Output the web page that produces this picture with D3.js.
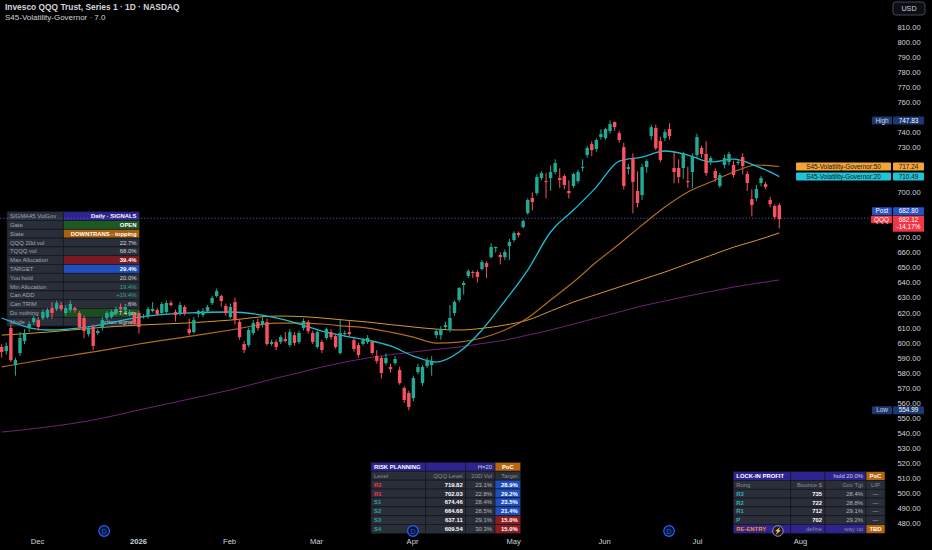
<!DOCTYPE html>
<html><head><meta charset="utf-8">
<script src="https://cdn.jsdelivr.net/npm/d3@7"></script>
<style>
html,body{margin:0;padding:0;background:#000;}
svg{display:block;font-family:"Liberation Sans",Arial,sans-serif;}
</style></head><body>
<svg id="c" width="932" height="550"></svg>
<script>
// ---------------- DATA ----------------
const opens=[597.1,594.4,609.7,585.1,593.1,601.1,609.7,613.7,615.0,616.4,
617.0,623.0,622.4,625.0,619.7,621.7,623.0,619.7,616.4,605.7,
610.4,606.4,609.7,616.4,617.0,619.7,623.7,621.7,619.0,618.4,
619.7,617.0,617.7,621.0,621.7,619.7,620.4,626.4,620.4,619.7,
623.7,609.0,607.0,619.0,618.4,621.0,626.4,631.0,631.0,624.4,
617.0,627.0,613.7,599.1,598.4,606.4,613.7,611.7,613.7,599.1,
600.4,600.4,602.4,598.4,605.0,600.4,609.7,613.7,606.4,597.1,
600.4,603.1,607.0,604.4,593.1,605.7,607.0,601.7,598.4,599.1,
600.4,600.4,591.1,589.8,586.4,583.8,586.4,581.8,569.8,566.5,
563.1,580.4,573.1,584.4,585.1,605.0,605.0,610.4,608.4,619.7,
628.4,638.3,644.3,647.0,647.0,649.0,652.9,656.9,662.9,658.3,
656.9,664.3,668.3,672.9,676.9,686.2,696.2,699.5,709.5,707.5,
709.5,713.5,709.5,710.8,700.9,704.2,707.5,716.2,724.8,732.1,
728.8,736.8,736.1,740.8,746.8,739.4,730.1,715.5,722.8,700.9,
698.2,716.8,737.4,742.8,734.1,736.1,742.1,716.2,716.2,716.2,
707.5,713.5,724.8,729.5,725.5,720.2,714.2,704.2,718.2,720.2,
718.2,719.5,723.5,712.2,695.5,696.2,706.2,705.5,694.9,690.9,
691.5];
const closes=[593.8,597.8,588.4,588.4,603.1,606.4,612.4,616.4,610.4,620.4,
621.7,619.7,626.4,622.4,623.0,625.7,621.7,610.4,607.7,609.7,
597.8,607.7,615.0,619.7,620.4,622.4,622.4,623.7,620.4,613.0,
610.4,617.7,622.4,622.4,619.0,625.7,626.4,625.0,618.4,625.0,
619.7,606.4,615.0,621.0,621.0,623.7,629.7,634.3,627.7,619.7,
623.7,615.0,603.7,595.1,608.4,613.0,609.7,614.4,599.1,600.4,
597.1,603.7,601.1,607.0,599.8,606.4,614.4,607.7,600.4,607.0,
595.1,609.0,603.7,597.1,606.4,606.4,605.7,595.8,591.8,601.7,
603.1,593.1,587.8,579.8,589.8,582.4,589.1,573.1,561.8,557.2,
576.4,583.8,583.8,587.8,587.8,607.7,609.0,611.7,616.4,627.0,
636.3,639.7,647.6,646.3,643.7,653.6,650.3,663.6,663.6,656.9,
660.3,666.9,672.9,671.6,680.9,694.9,693.5,710.2,712.8,706.9,
713.5,719.5,708.2,704.9,699.5,712.2,713.5,716.8,729.5,728.1,
734.8,738.8,742.1,745.4,743.4,734.8,704.2,716.8,706.9,692.9,
716.8,720.8,743.4,729.4,721.5,740.1,737.4,713.5,710.2,726.1,
706.9,724.2,736.8,725.5,712.8,722.8,709.5,711.5,722.8,725.5,
711.5,720.2,717.5,706.2,691.5,702.2,709.5,703.5,692.2,683.6,
682.12];
const highs=[599,600,612,590,607,609,614,618,617,622,
623,627,628,627,625,628,624,621,618,611,
612,609,617,621,622,624,626,625,622,620,
621,619,624,627,623,627,628,628,622,627,
625,616,617,622,623,625,631,636,632,626,
626,630,615,601,610,615,616,617,616,602,
602,605,607,609,607,608,616,615,608,608,
602,610,609,606,615,608,615,603,600,603,
605,601,595,591,593,586,591,584,571,568,
578,586,585,590,591,609,611,614,625,628,
637,641,649,648,648,655,654,666,664,660,
662,669,674,674,682,696,700,712,714,713,
718,722,716,712,708,713,715,722,731,734,
736,742,743,747.83,747,741,733,719,726,714,
719,722,745,745,737,742,746,727,722,727,
717,726,739,731,734,724,716,713,725,727,
721,722,726,714,702,705,711,707,697,692,
693];
const lows=[590,592,587,578,591,599,607,612,608,615,
616,616,621,621,618,620,620,609,603,604,
595,605,608,615,616,618,621,620,618,612,
606,616,616,620,618,618,619,624,614,618,
618,605,606,617,617,620,625,630,624,618,
616,612,602,593,597,605,608,610,598,598,
595,599,600,597,598,599,608,606,599,596,
593,602,602,596,592,604,604,594,590,598,
599,592,586,576,585,580,585,572,560,554.99,
561,579,571,583,578,603,602,609,607,618,
627,632,643,643,640,648,643,656,660,652,
655,655,667,670,676,685,688,698,708,696,
701,712,703,702,696,703,706,714,723,724,
727,735,735,739,741,733,702,712,686,690,
695,713,735,728,720,734,735,706,706,709,
703,703,723,723,711,718,707,703,716,718,
710,718,712,701,684,694,704,702,690,682,
676];

// moving-average lines read at sample bars
const maBars =[0,10,20,30,40,50,60,65,70,75,80,85,90,95,100,105,110,115,120,125,130,135,140,145,150,155,160,165,170];
const ma20   =[616.4,608.4,611.0,617.0,619.7,620.4,616.4,612.4,607.7,604.4,601.7,597.8,591.1,587.1,593.8,608.4,627.7,648.3,673.6,688.2,703.5,720.8,723.5,727.5,724.8,720.2,722.1,717.5,710.5];
const ma50   =[583.8,589.1,593.8,599.1,603.7,608.4,613.0,613.0,612.4,611.0,609.7,607.0,603.7,599.7,600.4,603.1,608.4,616.4,628.4,640.3,653.6,665.6,678.2,690.2,700.2,706.9,713.5,718.2,717.2];
const ma100  =[605.0,607.0,609.7,611.7,613.0,615.0,617.7,617.4,616.4,615.0,613.7,612.0,610.4,609.0,608.4,609.5,611.7,615.0,621.0,627.0,632.0,637.0,642.0,647.0,652.5,658.0,663.5,668.0,673.0];
const ma200  =[540.5,543.9,548.5,555.2,561.8,568.5,576.4,580.0,583.8,587.0,589.8,592.0,593.8,595.5,597.1,599.4,601.7,605.0,608.4,612.4,616.4,620.4,624.4,627.7,631.0,634.0,637.0,639.4,641.7];

const monthLabels=["Dec","2026","Feb","Mar","Apr","May","Jun","Jul","Aug"];
const monthBars  =[7.7,29.8,49.7,68.7,89.7,111.8,131.7,152.0,174.5];
const dividendBars=[22.4,89.9,145.9];
const splitBars=[169.7];
const priceTicks=[480,490,500,510,520,530,540,550,560,570,580,590,600,610,620,630,640,650,660,670,680,690,700,710,720,730,740,750,760,770,780,790,800,810];

const lastPrice=682.12, postPrice=682.80, highPrice=747.83, lowPrice=554.99;
const gov50=717.24, gov20=710.49, changePct="-14.17%";

const leftLabels=["SIGMA45 VolGov","Gate","State","QQQ 20d vol","TQQQ vol","Max Allocation","TARGET","You hold","Min Allocation","Can ADD","Can TRIM","Do nothing","Mode"];
const leftValues=["Daily · SIGNALS","OPEN","DOWNTRANS · topping","22.7%","68.0%","39.4%","29.4%","20.0%","19.4%","+19.4%","-.6%","±/- 7.4 pts","action signals"];

const riskHeader=["RISK PLANNING","","H=20","PoC"];
const riskCols=["Level","QQQ Level","20D Vol","Target"];
const riskLevels=["R2","R1","S1","S2","S3","S4"];
const riskPrices=[719.82,702.03,674.46,664.68,637.11,609.54];
const riskVol=[23.1,22.8,28.4,28.5,29.1,30.3];
const riskTarget=[28.9,29.2,23.5,21.4,15.0,15.0];

const lipHeader=["LOCK-IN PROFIT","","hold 20.0%","PoC"];
const lipCols=["Rung","Bounce $","Gov Tgt","LIP"];
const lipRungs=["R3","R2","R1","P"];
const lipBounce=[735,722,712,702];
const lipTgt=[28.4,28.8,29.1,29.2];
const lipFlag=["—","—","—","—"];
const lipLast=["RE-ENTRY","define","way up","TBD"];

// ---------------- DRAW ----------------
const svg=d3.select("#c");
svg.append("rect").attr("width",932).attr("height",550).attr("fill","#000");

const x=d3.scaleLinear().domain([0,170]).range([1.7,779.3]);
const y=d3.scaleLinear().domain([480,810]).range([523,27]);

const UP="#22ab94", DN="#f7525f";
const GRAY="#2a2e39", INDIGO="#2e2390", ORANGE="#b8670f", BLUEC="#1f4fbf", REDC="#8b1d1f";

// tables
function drawTable(edges, top, rh, cells){
  const g=svg.append("g");
  cells.forEach((row,r)=>{
    row.forEach((c,ci)=>{
      const x0=edges[ci], x1=edges[ci+1], y0=top+r*rh;
      g.append("rect").attr("x",x0).attr("y",y0).attr("width",x1-x0).attr("height",rh)
        .attr("fill",c.bg||GRAY).attr("stroke","#141720").attr("stroke-width",0.7);
      if(c.t!==undefined && c.t!==""){
        const al=c.a||"end";
        const tx= al==="start"? x0+3 : al==="middle"? (x0+x1)/2 : x1-3;
        g.append("text").attr("x",tx).attr("y",y0+rh/2+2.1).attr("text-anchor",al)
          .attr("font-size",5.9).attr("font-weight",c.b?"700":"400")
          .attr("fill",c.fg||"#d1d4dc").text(c.t);
      }
    });
  });
}

// left table
const leftBg=[INDIGO,"#1d5a22","#a8620d",GRAY,GRAY,"#7a1c1f",BLUEC,GRAY,GRAY,GRAY,GRAY,"#1c4d20",GRAY];
const leftFg=["#fff","#fff","#fff","#d1d4dc","#d1d4dc","#fff","#fff","#d1d4dc","#22ab94","#22ab94","#d1d4dc","#fff","#d1d4dc"];
const leftBold=[true,true,true,false,false,true,true,false,false,false,false,false,false];
drawTable([7,63.3,139.5],211.7,8.8,leftLabels.map((l,i)=>[
  {t:l,a:"start",fg:"#a3a6af"},
  {t:leftValues[i],bg:leftBg[i],fg:leftFg[i],b:leftBold[i]}
]));

// risk planning table
const fmtP=d3.format(".2f"), fmtPct=v=>d3.format(".1f")(v)+"%";
const riskRows=[
  [{t:riskHeader[0],a:"start",bg:INDIGO,fg:"#fff",b:true},{t:riskHeader[1],bg:INDIGO},{t:riskHeader[2],bg:INDIGO,fg:"#d1d4dc"},{t:riskHeader[3],bg:ORANGE,fg:"#fff",b:true,a:"middle"}],
  riskCols.map((t,i)=>({t:t,a:i===0?"start":"end",fg:"#8a8d96"}))
];
riskLevels.forEach((l,i)=>{
  riskRows.push([
    {t:l,a:"start",fg:l[0]==="R"?"#f23645":"#22ab94",b:true},
    {t:fmtP(riskPrices[i]),fg:"#fff",b:true},
    {t:fmtPct(riskVol[i]),fg:"#b2b5be"},
    {t:fmtPct(riskTarget[i]),bg:riskTarget[i]>20?BLUEC:REDC,fg:"#fff",b:true}
  ]);
});
drawTable([371,425.7,465.7,495,520.7],462.3,8.9,riskRows);

// lock-in profit table
const lipRows=[
  [{t:lipHeader[0],a:"start",bg:INDIGO,fg:"#fff",b:true},{t:lipHeader[1],bg:INDIGO},{t:lipHeader[2],bg:INDIGO,fg:"#d1d4dc"},{t:lipHeader[3],bg:ORANGE,fg:"#fff",b:true,a:"middle"}],
  lipCols.map((t,i)=>({t:t,a:i===0?"start":i===3?"middle":"end",fg:"#8a8d96"}))
];
lipRungs.forEach((r,i)=>{
  lipRows.push([
    {t:r,a:"start",fg:"#2bb3b3",b:true},
    {t:String(lipBounce[i]),fg:"#fff",b:true},
    {t:fmtPct(lipTgt[i]),fg:"#b2b5be"},
    {t:lipFlag[i],a:"middle",fg:"#b2b5be"}
  ]);
});
lipRows.push([
  {t:lipLast[0],a:"start",bg:INDIGO,fg:"#f7931a",b:true},
  {t:lipLast[1],bg:INDIGO,fg:"#8a8d96"},
  {t:lipLast[2],bg:INDIGO,fg:"#8a8d96"},
  {t:lipLast[3],a:"middle",bg:ORANGE,fg:"#fff",b:true}
]);
drawTable([733.3,790.7,825,866,885],471.7,8.8,lipRows);

// post dotted line
svg.append("line").attr("x1",0).attr("x2",870).attr("y1",y(postPrice)).attr("y2",y(postPrice))
  .attr("stroke","#5054c0").attr("stroke-width",1).attr("stroke-dasharray","1.2,2");

// MA lines
const lineGen=vals=>d3.line().x((d,i)=>x(maBars[i])).y(d=>y(d)).curve(d3.curveMonotoneX)(vals);
[[ma200,"#74207a",1],[ma100,"#d69a2e",1],[ma50,"#b06d1a",1.2],[ma20,"#1fbcd2",1.3]].forEach(([v,c,w])=>{
  svg.append("path").attr("d",lineGen(v)).attr("fill","none").attr("stroke",c).attr("stroke-width",w);
});

// candles
const cg=svg.append("g");
opens.forEach((o,i)=>{
  const c=closes[i], col=c>=o?UP:DN, cx=x(i);
  cg.append("line").attr("x1",cx).attr("x2",cx).attr("y1",y(highs[i])).attr("y2",y(lows[i]))
    .attr("stroke",col).attr("stroke-width",1);
  const t=y(Math.max(o,c)), b=y(Math.min(o,c));
  cg.append("rect").attr("x",cx-1.7).attr("y",t).attr("width",3.4).attr("height",Math.max(1,b-t)).attr("fill",col);
});

// badges (positions on the price axis)
const badgeCenters=[y(highPrice),y(gov50),y(gov20),y(postPrice)-7,y(lastPrice)+4,y(lowPrice)];

// right axis (labels hidden where a badge sits on them)
const ax=svg.append("g").attr("transform","translate(909,0)")
  .call(d3.axisRight(y).tickValues(priceTicks).tickFormat(d3.format(".2f")).tickSize(0).tickPadding(0));
ax.select(".domain").remove();
ax.selectAll("text").attr("text-anchor","middle").attr("fill","#d1d4dc").attr("font-size",7.6)
  .attr("font-family","Liberation Sans, Arial, sans-serif");
ax.selectAll(".tick").filter(d=>badgeCenters.some(bc=>Math.abs(y(d)-bc)<7)).remove();

// bottom axis
const bx=svg.append("g").attr("transform","translate(0,539)")
  .call(d3.axisBottom(x).tickValues(monthBars).tickFormat((d,i)=>monthLabels[i]).tickSize(0).tickPadding(0));
bx.select(".domain").remove();
bx.selectAll("text").attr("fill","#d1d4dc").attr("font-size",7.6).attr("font-family","Liberation Sans, Arial, sans-serif")
  .attr("font-weight",(d,i)=>monthLabels[i]==="2026"?"700":"400");

// dividend & split markers
dividendBars.forEach(b=>{
  svg.append("circle").attr("cx",x(b)).attr("cy",531).attr("r",5.3).attr("fill","#08132e").attr("stroke","#2962ff").attr("stroke-width",1.2);
  svg.append("text").attr("x",x(b)).attr("y",533.6).attr("text-anchor","middle").attr("font-size",7).attr("fill","#2962ff").text("D");
});
splitBars.forEach(b=>{
  svg.append("circle").attr("cx",x(b)).attr("cy",531).attr("r",5.3).attr("fill","#15163a").attr("stroke","#9598a1").attr("stroke-width",1);
  svg.append("text").attr("x",x(b)).attr("y",533.4).attr("text-anchor","middle").attr("font-size",6.5).attr("fill","#d1d4dc").text("⚡");
});

function box(x0,y0,w,h,fill,txt,fg,anchor){
  svg.append("rect").attr("x",x0).attr("y",y0).attr("width",w).attr("height",h).attr("fill",fill).attr("rx",1);
  if(txt) svg.append("text").attr("x",anchor==="start"?x0+2:x0+w/2).attr("y",y0+h/2+2.2)
    .attr("text-anchor",anchor||"middle").attr("font-size",6.4).attr("fill",fg).text(txt);
}
// USD
svg.append("rect").attr("x",893).attr("y",2).attr("width",32).attr("height",13).attr("rx",3).attr("fill","#0c0e14").attr("stroke","#434651");
svg.append("text").attr("x",909).attr("y",11.3).attr("text-anchor","middle").attr("font-size",7.2).attr("fill","#d1d4dc").text("USD");

const NAVY="#1c3870";
box(872,y(highPrice)-4,20,8,NAVY,"High","#d1d4dc");
box(893,y(highPrice)-4,31,8,NAVY,fmtP(highPrice),"#fff");
box(796,y(gov50)-4,95,8,"#f2a437","S45-Volatility-Governor:50","#131722");
box(893,y(gov50)-4,31,8,"#f2a437",fmtP(gov50),"#131722");
box(796,y(gov20)-4,95,8,"#22c3d6","S45-Volatility-Governor:20","#131722");
box(893,y(gov20)-4,31,8,"#22c3d6",fmtP(gov20),"#131722");
box(872,y(postPrice)-11,20,8,"#2451c4","Post","#fff");
box(893,y(postPrice)-11,31,8,"#2451c4",fmtP(postPrice),"#fff");
box(871,y(lastPrice)-3.5,21,7.5,"#f23645","QQQ","#fff");
svg.append("rect").attr("x",893).attr("y",y(lastPrice)-3.5).attr("width",31).attr("height",16).attr("fill","#f23645");
svg.append("text").attr("x",908.5).attr("y",y(lastPrice)+2.3).attr("text-anchor","middle").attr("font-size",6.4).attr("fill","#fff").text(fmtP(lastPrice));
svg.append("text").attr("x",908.5).attr("y",y(lastPrice)+10).attr("text-anchor","middle").attr("font-size",6.4).attr("fill","#fff").text(changePct);
box(872,y(lowPrice)-4,20,8,NAVY,"Low","#d1d4dc");
box(893,y(lowPrice)-4,31,8,NAVY,fmtP(lowPrice),"#fff");

// titles
svg.append("text").attr("x",5).attr("y",10).attr("font-size",8.4).attr("font-weight","700").attr("fill","#d1d4dc")
  .text("Invesco QQQ Trust, Series 1 · 1D · NASDAQ");
svg.append("text").attr("x",5).attr("y",20).attr("font-size",8).attr("fill","#d1d4dc")
  .text("S45-Volatility-Governor · 7.0");
</script>
</body></html>
